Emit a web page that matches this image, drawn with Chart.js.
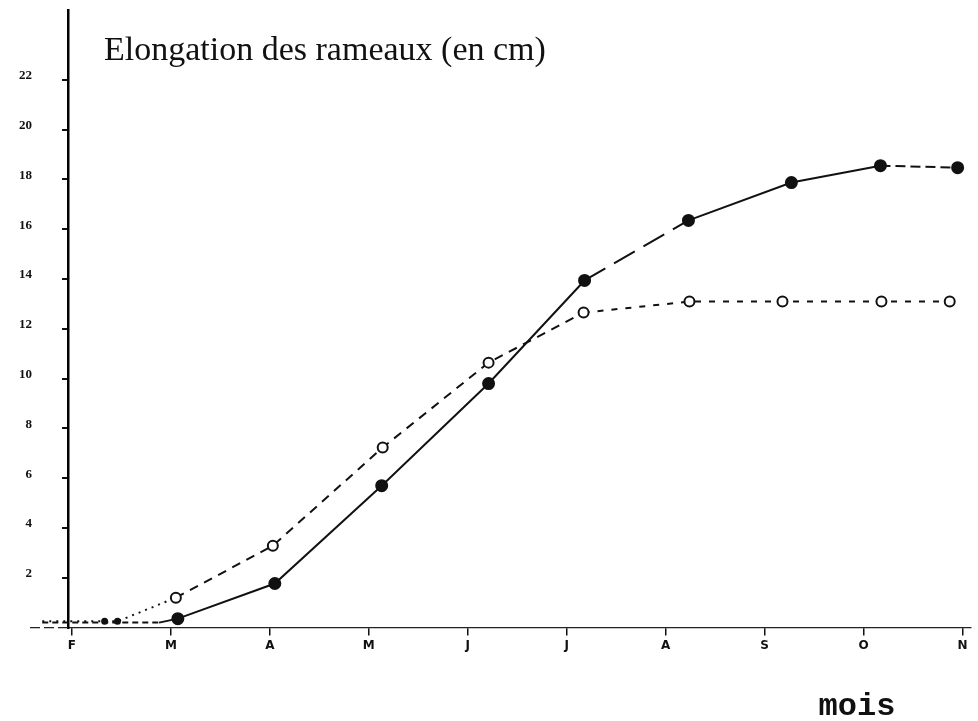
<!DOCTYPE html>
<html>
<head>
<meta charset="utf-8">
<script src="https://cdn.jsdelivr.net/npm/chart.js@4/dist/chart.umd.min.js"></script>
<style>
    html, body { margin: 0; padding: 0; background: #fff; }
</style>
</head>
<body>
<canvas id="elongation-chart" width="978" height="721"></canvas>
<script>
//
// Data
//
const chartTitle = 'Elongation des rameaux (en cm)';
const axisTitle = 'mois';
const monthLabels = ['F', 'M', 'A', 'M', 'J', 'J', 'A', 'S', 'O', 'N'];
const yTickValues = [2, 4, 6, 8, 10, 12, 14, 16, 18, 20, 22];

// filled dots, solid line (month position, cm)
const pleinX = [-0.30, 0.88, 1.07, 2.05, 3.13, 4.21, 5.18, 6.23, 7.27, 8.17, 8.95];
const pleinY = [0.2, 0.2, 0.36, 1.77, 5.70, 9.80, 13.94, 16.35, 17.87, 18.55, 18.47];

// open circles, dashed line
const videX = [-0.30, 0.33, 0.46, 1.05, 2.03, 3.14, 4.21, 5.17, 6.24, 7.18, 8.18, 8.87];
const videY = [0.25, 0.25, 0.25, 1.2, 3.29, 7.23, 10.64, 12.65, 13.09, 13.09, 13.09, 13.09];

const ink = '#111';

//
// Chart
//
const elongationCanvas = document.getElementById('elongation-chart');

// free text (title inside the plot, "mois" under the axis)
// + the bit of baseline that runs left of the y axis
const textPlugin = {
    id: 'texteLibre',
    afterDraw(chart) {
        const ctx = chart.ctx;
        const area = chart.chartArea;
        ctx.save();
        ctx.strokeStyle = '#222';
        ctx.lineWidth = 1.2;
        ctx.setLineDash([10, 4]);
        ctx.beginPath();
        ctx.moveTo(30, area.bottom);
        ctx.lineTo(area.left, area.bottom);
        ctx.stroke();
        ctx.setLineDash([]);

        ctx.fillStyle = ink;
        ctx.font = '34px "Liberation Serif"';
        ctx.textAlign = 'left';
        ctx.textBaseline = 'alphabetic';
        ctx.fillText(chartTitle, 104, 60);
        ctx.font = 'bold 32px "Liberation Mono"';
        ctx.textAlign = 'center';
        ctx.fillText(axisTitle, 857, 715);
        ctx.restore();
    }
};

let elongationData = {
    datasets: [{
        data: pleinX.map((x, i) => ({ x: x, y: pleinY[i] })),
        borderColor: ink,
        borderWidth: 2,
        pointBackgroundColor: ink,
        pointBorderColor: ink,
        pointRadius: (ctx) => ctx.dataIndex < 2 ? 0 : 5.5,
        segment: {
            borderDash: (ctx) => {
                if (ctx.p0DataIndex === 0) return [6, 4];
                if (ctx.p0DataIndex === 6) return [24, 10];
                if (ctx.p0DataIndex === 9) return [10, 5];
                return undefined;
            }
        },
        clip: false
    }, {
        data: videX.map((x, i) => ({ x: x, y: videY[i] })),
        borderColor: ink,
        borderWidth: 2,
        pointBackgroundColor: (ctx) => ctx.dataIndex < 3 ? ink : '#fff',
        pointBorderColor: ink,
        pointBorderWidth: 2,
        pointRadius: (ctx) => ctx.dataIndex === 0 ? 0 : (ctx.dataIndex < 3 ? 2.5 : 5),
        segment: {
            borderDash: (ctx) => ctx.p0DataIndex < 3 ? [2, 5] : (ctx.p0DataIndex < 7 ? [9, 7] : [6, 8])
        },
        clip: false
    }]
};

let elongationOptions = {
    responsive: false,
    animation: false,
    layout: {
        padding: { left: 0, top: 10, right: 0, bottom: 65 }
    },
    plugins: {
        legend: { display: false },
        tooltip: { enabled: false }
    },
    scales: {
        x: {
            type: 'linear',
            min: -0.04,
            max: 9.08,
            afterBuildTicks: (scale) => {
                scale.ticks = monthLabels.map((m, i) => ({ value: i }));
            },
            ticks: {
                callback: (value) => monthLabels[value],
                color: ink,
                font: { family: 'DejaVu Sans', size: 12, weight: 'bold' },
                padding: 3,
                maxRotation: 0,
                autoSkip: false
            },
            grid: {
                drawOnChartArea: false,
                tickLength: 8,
                color: ink,
                lineWidth: 1.5
            },
            border: { color: '#222', width: 1.2, dash: [10, 4] }
        },
        y: {
            type: 'linear',
            position: 'left',
            min: 0,
            max: 24.8,
            afterBuildTicks: (scale) => {
                scale.ticks = yTickValues.map((v) => ({ value: v }));
            },
            // fixed width; the wide label padding must not push the plot top down
            afterFit: (scale) => {
                scale.width = 68;
                scale.paddingTop = 0;
                scale.paddingBottom = 0;
            },
            ticks: {
                color: ink,
                font: { family: 'Liberation Serif', size: 13, weight: 'bold' },
                padding: 30,
                labelOffset: -4
            },
            grid: {
                drawOnChartArea: false,
                tickLength: 6,
                color: ink,
                lineWidth: 2
            },
            border: { color: '#000', width: 2.5 }
        }
    }
};

let elongationChart = new Chart(elongationCanvas, {
    type: 'line',
    data: elongationData,
    options: elongationOptions,
    plugins: [textPlugin]
});
</script>
</body>
</html>
